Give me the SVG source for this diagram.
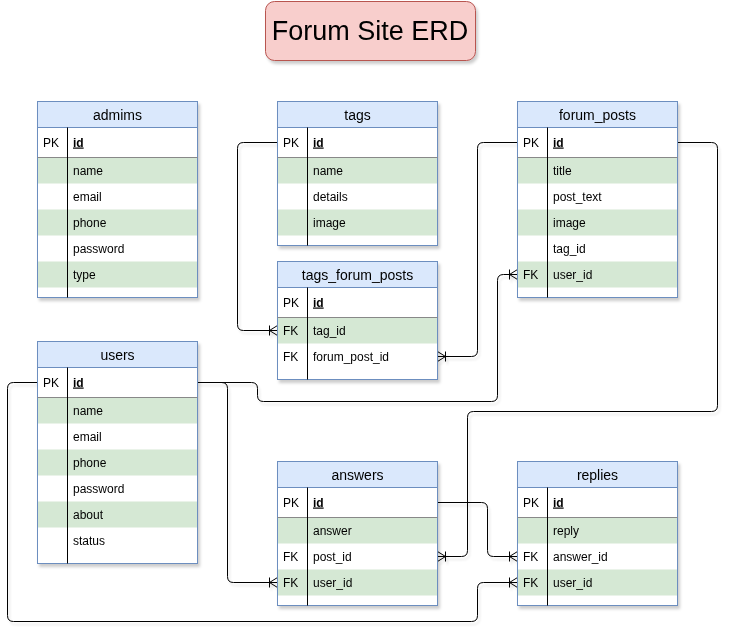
<svg xmlns="http://www.w3.org/2000/svg" width="737" height="641" viewBox="0 0 737 641">
<style>
text{font-family:"Liberation Sans",Arial,Helvetica,sans-serif;fill:#000;}
.hdr{font-size:14px;text-anchor:middle;}
.f{font-size:12px;}
.pk{font-weight:bold;text-decoration:underline;}
.tbl{fill:#fff;stroke:#6c8ebf;stroke-width:1;}
.head{fill:#dae8fc;stroke:#6c8ebf;stroke-width:1;}
.g{fill:#d5e8d4;stroke:none;}
.kdiv{stroke:#000;stroke-width:1;}
.sep{stroke:#888;stroke-width:1;}
.c{fill:none;stroke:#000;stroke-width:1;marker-end:url(#erm);}
</style>
<defs>
<filter id="sh" x="-10%" y="-10%" width="130%" height="130%">
<feDropShadow dx="2" dy="3" stdDeviation="1.5" flood-color="#000" flood-opacity="0.2"/>
</filter>
<filter id="shl" x="-10%" y="-10%" width="130%" height="130%">
<feDropShadow dx="2" dy="3" stdDeviation="1.2" flood-color="#000" flood-opacity="0.12"/>
</filter>
<marker id="erm" markerUnits="userSpaceOnUse" markerWidth="14" markerHeight="14" refX="10" refY="6" orient="auto" overflow="visible">
<path d="M2,6 L10,1 M2,6 L10,11 M2,1 L2,11" fill="none" stroke="#000" stroke-width="1"/>
</marker>
</defs>
<rect width="737" height="641" fill="#fff"/>

<g id="title" filter="url(#sh)">
<rect x="265.5" y="1.5" width="210" height="59" rx="9" fill="#f8cecc" stroke="#b85450"/>
<text x="370" y="40" style="font-size:27px;text-anchor:middle">Forum Site ERD</text>
</g>

<g id="connectors" filter="url(#shl)">
<path class="c" d="M277.5,142.5 H243.5 Q237.5,142.5 237.5,148.5 V324.5 Q237.5,330.5 243.5,330.5 H277.5"/>
<path class="c" d="M517.5,142.5 H483.5 Q477.5,142.5 477.5,148.5 V350.5 Q477.5,356.5 471.5,356.5 H437.5"/>
<path class="c" d="M197.5,382.5 H251.5 Q257.5,382.5 257.5,388.5 V395.5 Q257.5,401.5 263.5,401.5 H491.5 Q497.5,401.5 497.5,395.5 V280.5 Q497.5,274.5 503.5,274.5 H517.5"/>
<path class="c" d="M197.5,382.5 H221.5 Q227.5,382.5 227.5,388.5 V576.5 Q227.5,582.5 233.5,582.5 H277.5"/>
<path class="c" d="M37.5,382.5 H13.5 Q7.5,382.5 7.5,388.5 V615.5 Q7.5,621.5 13.5,621.5 H471.5 Q477.5,621.5 477.5,615.5 V588.5 Q477.5,582.5 483.5,582.5 H517.5"/>
<path class="c" d="M677.5,142.5 H711.5 Q717.5,142.5 717.5,148.5 V405.5 Q717.5,411.5 711.5,411.5 H473.5 Q467.5,411.5 467.5,417.5 V550.5 Q467.5,556.5 461.5,556.5 H437.5"/>
<path class="c" d="M437.5,502.5 H481.5 Q487.5,502.5 487.5,508.5 V550.5 Q487.5,556.5 493.5,556.5 H517.5"/>
</g>

<!-- admims -->
<g id="admims" filter="url(#sh)">
<rect class="tbl" x="37.5" y="101.5" width="160" height="196"/>
<rect class="g" x="38" y="157.5" width="159" height="26"/>
<rect class="g" x="38" y="209.5" width="159" height="26"/>
<rect class="g" x="38" y="261.5" width="159" height="26"/>
<rect class="head" x="37.5" y="101.5" width="160" height="26"/>
<line class="sep" x1="37.5" y1="157.5" x2="197.5" y2="157.5"/>
<line class="kdiv" x1="67.5" y1="127.5" x2="67.5" y2="297.5"/>
<text class="hdr" x="117.5" y="119.5">admims</text>
<text class="f" x="43" y="146.5">PK</text>
<text class="f pk" x="73" y="146.5">id</text>
<text class="f" x="73" y="174.5">name</text>
<text class="f" x="73" y="200.5">email</text>
<text class="f" x="73" y="226.5">phone</text>
<text class="f" x="73" y="252.5">password</text>
<text class="f" x="73" y="278.5">type</text>
</g>

<!-- tags -->
<g id="tags" filter="url(#sh)">
<rect class="tbl" x="277.5" y="101.5" width="160" height="144"/>
<rect class="g" x="278" y="157.5" width="159" height="26"/>
<rect class="g" x="278" y="209.5" width="159" height="26"/>
<rect class="head" x="277.5" y="101.5" width="160" height="26"/>
<line class="sep" x1="277.5" y1="157.5" x2="437.5" y2="157.5"/>
<line class="kdiv" x1="307.5" y1="127.5" x2="307.5" y2="245.5"/>
<text class="hdr" x="357.5" y="119.5">tags</text>
<text class="f" x="283" y="146.5">PK</text>
<text class="f pk" x="313" y="146.5">id</text>
<text class="f" x="313" y="174.5">name</text>
<text class="f" x="313" y="200.5">details</text>
<text class="f" x="313" y="226.5">image</text>
</g>

<!-- tags_forum_posts -->
<g id="tags_forum_posts" filter="url(#sh)">
<rect class="tbl" x="277.5" y="261.5" width="160" height="118"/>
<rect class="g" x="278" y="317.5" width="159" height="26"/>
<rect class="head" x="277.5" y="261.5" width="160" height="26"/>
<line class="sep" x1="277.5" y1="317.5" x2="437.5" y2="317.5"/>
<line class="kdiv" x1="307.5" y1="287.5" x2="307.5" y2="379.5"/>
<text class="hdr" x="357.5" y="279.5">tags_forum_posts</text>
<text class="f" x="283" y="306.5">PK</text>
<text class="f pk" x="313" y="306.5">id</text>
<text class="f" x="283" y="334.5">FK</text>
<text class="f" x="313" y="334.5">tag_id</text>
<text class="f" x="283" y="360.5">FK</text>
<text class="f" x="313" y="360.5">forum_post_id</text>
</g>

<!-- forum_posts -->
<g id="forum_posts" filter="url(#sh)">
<rect class="tbl" x="517.5" y="101.5" width="160" height="196"/>
<rect class="g" x="518" y="157.5" width="159" height="26"/>
<rect class="g" x="518" y="209.5" width="159" height="26"/>
<rect class="g" x="518" y="261.5" width="159" height="26"/>
<rect class="head" x="517.5" y="101.5" width="160" height="26"/>
<line class="sep" x1="517.5" y1="157.5" x2="677.5" y2="157.5"/>
<line class="kdiv" x1="547.5" y1="127.5" x2="547.5" y2="297.5"/>
<text class="hdr" x="597.5" y="119.5">forum_posts</text>
<text class="f" x="523" y="146.5">PK</text>
<text class="f pk" x="553" y="146.5">id</text>
<text class="f" x="553" y="174.5">title</text>
<text class="f" x="553" y="200.5">post_text</text>
<text class="f" x="553" y="226.5">image</text>
<text class="f" x="553" y="252.5">tag_id</text>
<text class="f" x="523" y="278.5">FK</text>
<text class="f" x="553" y="278.5">user_id</text>
</g>

<!-- users -->
<g id="users" filter="url(#sh)">
<rect class="tbl" x="37.5" y="341.5" width="160" height="222"/>
<rect class="g" x="38" y="397.5" width="159" height="26"/>
<rect class="g" x="38" y="449.5" width="159" height="26"/>
<rect class="g" x="38" y="501.5" width="159" height="26"/>
<rect class="head" x="37.5" y="341.5" width="160" height="26"/>
<line class="sep" x1="37.5" y1="397.5" x2="197.5" y2="397.5"/>
<line class="kdiv" x1="67.5" y1="367.5" x2="67.5" y2="563.5"/>
<text class="hdr" x="117.5" y="359.5">users</text>
<text class="f" x="43" y="386.5">PK</text>
<text class="f pk" x="73" y="386.5">id</text>
<text class="f" x="73" y="414.5">name</text>
<text class="f" x="73" y="440.5">email</text>
<text class="f" x="73" y="466.5">phone</text>
<text class="f" x="73" y="492.5">password</text>
<text class="f" x="73" y="518.5">about</text>
<text class="f" x="73" y="544.5">status</text>
</g>

<!-- answers -->
<g id="answers" filter="url(#sh)">
<rect class="tbl" x="277.5" y="461.5" width="160" height="144"/>
<rect class="g" x="278" y="517.5" width="159" height="26"/>
<rect class="g" x="278" y="569.5" width="159" height="26"/>
<rect class="head" x="277.5" y="461.5" width="160" height="26"/>
<line class="sep" x1="277.5" y1="517.5" x2="437.5" y2="517.5"/>
<line class="kdiv" x1="307.5" y1="487.5" x2="307.5" y2="605.5"/>
<text class="hdr" x="357.5" y="479.5">answers</text>
<text class="f" x="283" y="506.5">PK</text>
<text class="f pk" x="313" y="506.5">id</text>
<text class="f" x="313" y="534.5">answer</text>
<text class="f" x="283" y="560.5">FK</text>
<text class="f" x="313" y="560.5">post_id</text>
<text class="f" x="283" y="586.5">FK</text>
<text class="f" x="313" y="586.5">user_id</text>
</g>

<!-- replies -->
<g id="replies" filter="url(#sh)">
<rect class="tbl" x="517.5" y="461.5" width="160" height="144"/>
<rect class="g" x="518" y="517.5" width="159" height="26"/>
<rect class="g" x="518" y="569.5" width="159" height="26"/>
<rect class="head" x="517.5" y="461.5" width="160" height="26"/>
<line class="sep" x1="517.5" y1="517.5" x2="677.5" y2="517.5"/>
<line class="kdiv" x1="547.5" y1="487.5" x2="547.5" y2="605.5"/>
<text class="hdr" x="597.5" y="479.5">replies</text>
<text class="f" x="523" y="506.5">PK</text>
<text class="f pk" x="553" y="506.5">id</text>
<text class="f" x="553" y="534.5">reply</text>
<text class="f" x="523" y="560.5">FK</text>
<text class="f" x="553" y="560.5">answer_id</text>
<text class="f" x="523" y="586.5">FK</text>
<text class="f" x="553" y="586.5">user_id</text>
</g>
</svg>
